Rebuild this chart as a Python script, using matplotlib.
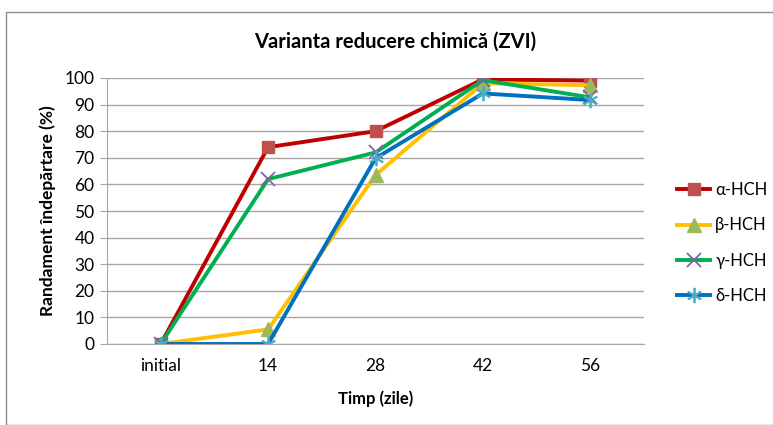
import matplotlib
matplotlib.use("Agg")
import matplotlib.pyplot as plt
from matplotlib.patches import Rectangle

categories = ["initial", "14", "28", "42", "56"]
alpha_hch = [0, 74, 80, 99.5, 99]
beta_hch = [0, 5.5, 63.5, 98, 97.3]
gamma_hch = [0, 62, 72, 99.2, 92.7]
delta_hch = [0, 0, 69.8, 94.2, 91.7]
series_names = ["α-HCH", "β-HCH", "γ-HCH", "δ-HCH"]

plt.rcParams['font.family'] = ['Lato', 'DejaVu Sans']

fig = plt.figure(figsize=(7.73, 4.25), dpi=100)
fig.patches.append(Rectangle((6/773, 0), 1, 1 - 12/425, transform=fig.transFigure,
                             fill=False, edgecolor='#8c8c8c', linewidth=1.0))
ax = fig.add_axes([107/773, 81/425, (644-107)/773, (344-78)/425])

x = list(range(len(categories)))
styles = [
    dict(color='#C00000', marker='s', mfc='#C0504D', mec='#C0504D', ms=9),
    dict(color='#FFC000', marker='^', mfc='#9BBB59', mec='#9BBB59', ms=10),
    dict(color='#00B050', marker='x', mfc='#8064A2', mec='#8064A2', ms=10, mew=1.3),
    dict(color='#0070C0', marker=(6, 2, 0), mfc='#4BACC6', mec='#4BACC6', ms=11, mew=1.3),
]
for data, name, st in zip([alpha_hch, beta_hch, gamma_hch, delta_hch], series_names, styles):
    ax.plot(x, data, linewidth=2.8, label=name, **st)

ax.set_xlim(-0.5, len(categories) - 0.5)
ax.set_ylim(0, 100)
ax.set_yticks(range(0, 101, 10))
ax.set_xticks(x)
ax.set_xticklabels(categories)
ax.grid(axis='y', color='#A6A6A6', linewidth=1.0)
ax.set_axisbelow(True)
for s in ['top', 'right']:
    ax.spines[s].set_visible(False)
ax.spines['left'].set_color('#A6A6A6')
ax.spines['bottom'].set_color('#A6A6A6')
ax.tick_params(axis='y', length=5, color='#A6A6A6', labelsize=12.5, pad=4)
ax.tick_params(axis='x', length=0, labelsize=12.5, pad=10)

ax.set_xlabel("Timp (zile)", fontsize=12, fontweight='bold', labelpad=12)
ax.set_ylabel("Randament îndepărtare (%)", fontsize=12.5, fontweight='bold', labelpad=6)
fig.text(395/773, 1 - 42/425, "Varianta reducere chimică (ZVI)", ha='center', va='center',
         fontsize=14.5, fontweight='bold')

fig.legend(loc='center left', bbox_to_anchor=(662/773, 1 - 243/425), frameon=False,
           fontsize=12, handlelength=2.0, labelspacing=1.15, handletextpad=0.3)

fig.savefig("out.png", dpi=100)
